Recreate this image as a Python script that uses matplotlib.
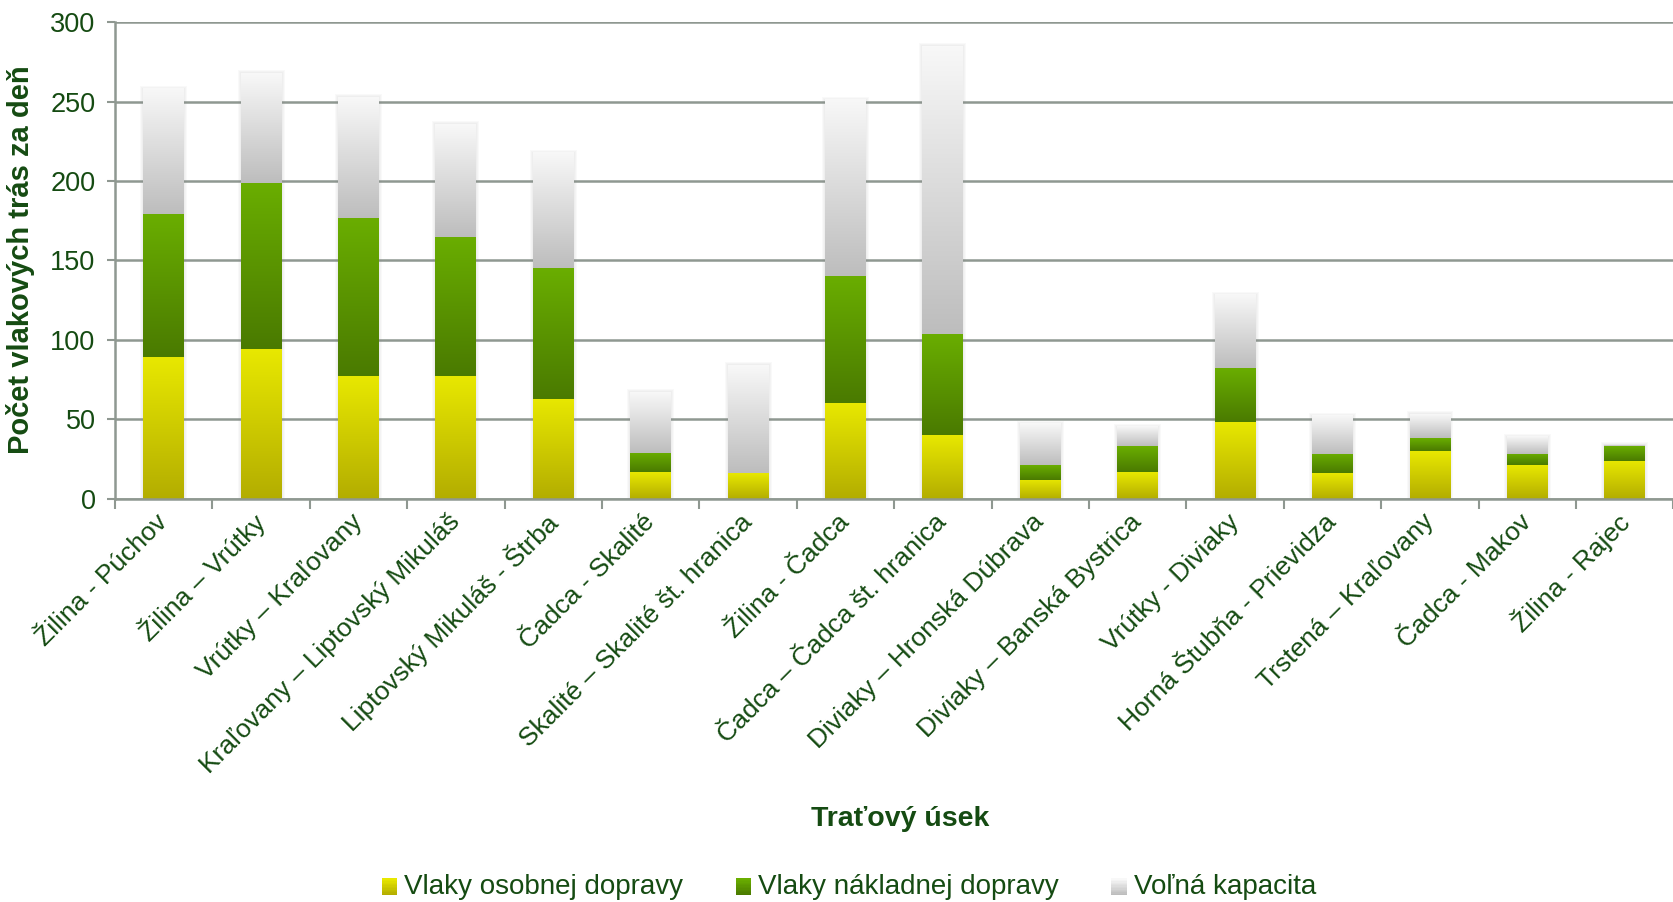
import numpy as np
import matplotlib
matplotlib.use('Agg')
import matplotlib.pyplot as plt
from matplotlib.patches import Rectangle
from matplotlib.legend_handler import HandlerBase
from matplotlib.colors import LinearSegmentedColormap

plt.rcParams['font.family'] = ['Liberation Sans', 'DejaVu Sans']

useky = ['Žilina - Púchov', 'Žilina – Vrútky', 'Vrútky – Kraľovany',
         'Kraľovany – Liptovský Mikuláš', 'Liptovský Mikuláš - Štrba',
         'Čadca - Skalité', 'Skalité – Skalité št. hranica', 'Žilina - Čadca',
         'Čadca – Čadca št. hranica', 'Diviaky – Hronská Dúbrava',
         'Diviaky – Banská Bystrica', 'Vrútky - Diviaky',
         'Horná Štubňa - Prievidza', 'Trstená – Kraľovany', 'Čadca - Makov',
         'Žilina - Rajec']
osobne = [89, 94, 77, 77, 63, 17, 16, 60, 40, 12, 17, 48, 16, 30, 21, 24]
nakladne = [90, 105, 100, 88, 82, 12, 0, 80, 64, 9, 16, 34, 12, 8, 7, 9]
volna = [79, 69, 76, 71, 73, 38, 68, 111, 181, 26, 12, 46, 24, 15, 11, 1]

nazvy = ['Vlaky osobnej dopravy', 'Vlaky nákladnej dopravy', 'Voľná kapacita']
# gradient colours: (bottom, top)
farby = [('#b3ad00', '#e8e800'), ('#4a7a00', '#6aae00'), ('#bdbdbd', '#f8f8f8')]

txt = '#154b12'
grid_c = '#8f9891'

fig = plt.figure(figsize=(16.74, 9.02), dpi=100)
ax = fig.add_axes([0.0687, 0.4472, 0.931, 0.528])

x = np.arange(len(useky))
w = 0.42
grad = np.linspace(0, 1, 256).reshape(-1, 1)

# soft shadow behind the stacked bars
spolu = np.array(osobne) + np.array(nakladne) + np.array(volna)
px_x = 1 / 97.4
px_y = 300 / 476.0
for k in range(1, 4):
    ax.bar(x, spolu + k * px_y, w + 2 * k * px_x, color='#808080', alpha=0.045,
           edgecolor='none', zorder=2)

bottom = np.zeros(len(useky))
for vals, (c0, c1), nm in zip([osobne, nakladne, volna], farby, nazvy):
    cmap = LinearSegmentedColormap.from_list(nm, [c0, c1])
    bars = ax.bar(x, vals, w, bottom=bottom, color='none', edgecolor='none', zorder=3)
    for b in bars:
        x0, y0 = b.get_x(), b.get_y()
        h = b.get_height()
        if h <= 0:
            continue
        ax.imshow(grad, cmap=cmap, origin='lower', aspect='auto',
                  extent=(x0, x0 + b.get_width(), y0, y0 + h), zorder=3)
    bottom = bottom + np.array(vals)

ax.set_xlim(-0.5, len(useky) - 0.5)
ax.set_ylim(0, 300)
ax.set_yticks(range(0, 301, 50))
ax.yaxis.grid(True, color=grid_c, lw=1.8, zorder=0)
ax.set_axisbelow(True)

for s in ['top', 'right']:
    ax.spines[s].set_visible(False)
for s in ['left', 'bottom']:
    ax.spines[s].set_color(grid_c)
    ax.spines[s].set_linewidth(1.8)
    ax.spines[s].set_zorder(4)

ax.set_xticks(x)
ax.set_xticks(np.arange(-0.5, len(useky), 1), minor=True)
ax.tick_params(axis='x', which='major', length=0, pad=14)
ax.tick_params(axis='x', which='minor', length=7, width=1.5, color=grid_c)
ax.tick_params(axis='y', length=6, width=1.5, color=grid_c, labelcolor=txt,
               labelsize=19.5, pad=8)
ax.set_xticklabels(useky, rotation=45, ha='right', rotation_mode='anchor',
                   color=txt, fontsize=19)
for lab in ax.get_xticklabels():
    lab.set_va('center')

ax.set_ylabel('Počet vlakových trás za deň', fontsize=21, fontweight='bold',
              color=txt)
ax.yaxis.set_label_coords(-0.0513, 0.501)
ax.set_xlabel('Traťový úsek', fontsize=20.5, fontweight='bold', color=txt)
ax.xaxis.set_label_coords(0.5035, -0.645)


class GradHandler(HandlerBase):
    def __init__(self, c0, c1):
        super().__init__()
        self.cmap = LinearSegmentedColormap.from_list('h', [c0, c1])

    def create_artists(self, legend, orig, xd, yd, width, height, fontsize, trans):
        n = 12
        out = []
        for i in range(n):
            r = Rectangle((xd, yd + i * height / n), width, height / n + 0.3,
                          facecolor=self.cmap(i / (n - 1)), edgecolor='none',
                          transform=trans)
            out.append(r)
        return out


handles = [Rectangle((0, 0), 1, 1) for _ in nazvy]
hmap = {h: GradHandler(c0, c1) for h, (c0, c1) in zip(handles, farby)}
leg = fig.legend(handles, nazvy, handler_map=hmap, loc='center',
                 bbox_to_anchor=(0.507, 0.017), ncol=3, frameon=False,
                 fontsize=20, handlelength=0.55, handleheight=0.55,
                 handletextpad=0.25, columnspacing=1.9)
for t in leg.get_texts():
    t.set_color(txt)

fig.savefig('out.png', dpi=100)
